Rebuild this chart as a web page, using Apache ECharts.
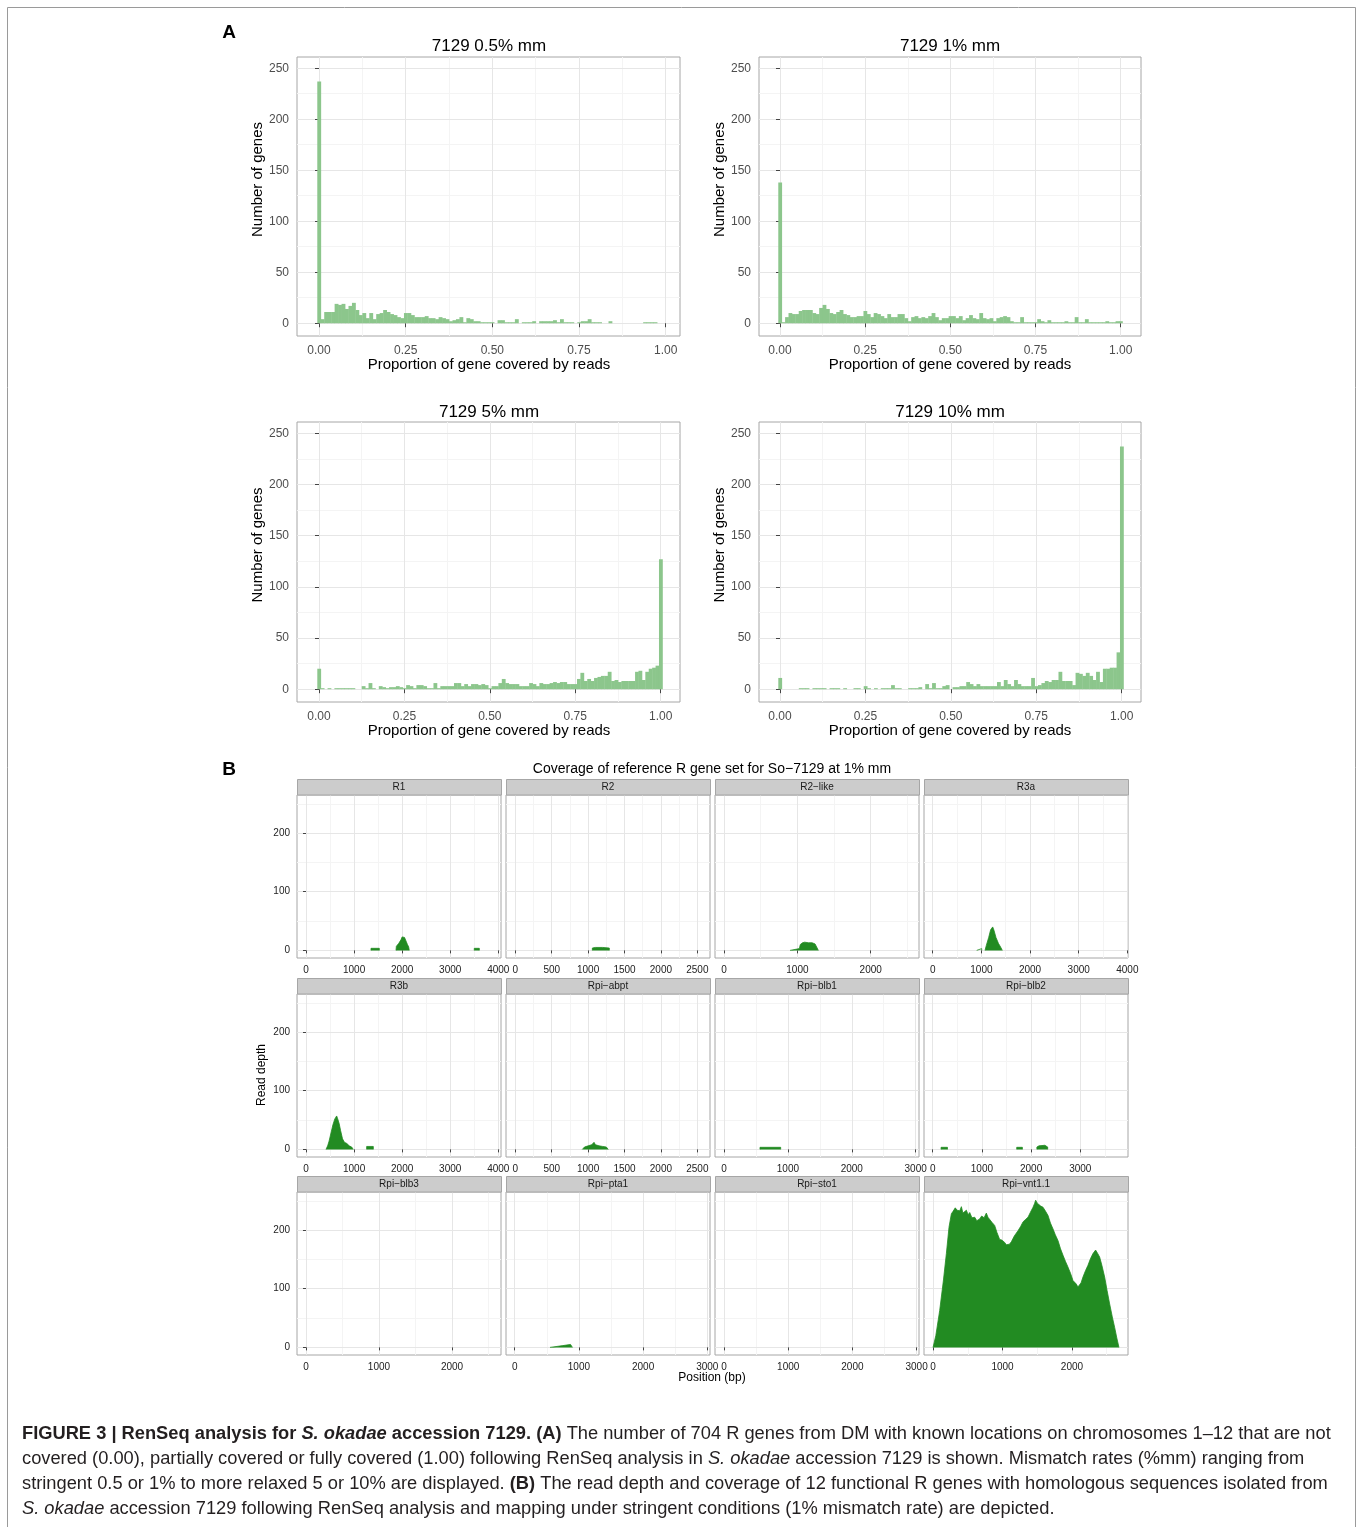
<!DOCTYPE html>
<html><head><meta charset="utf-8">
<script src="https://cdn.jsdelivr.net/npm/echarts@6/dist/echarts.min.js"></script>
<style>html,body{margin:0;padding:0;background:#fff}#c{width:1357px;height:1527px}</style>
</head><body><div id="c"></div>
<script>
// ---------------- DATA ----------------
const BIN = 0.01; // histogram bin width (bins centred on 0.00, 0.01, ... 1.00)
const histTitles = ['7129 0.5% mm', '7129 1% mm', '7129 5% mm', '7129 10% mm'];
const hist05 = [237,4,11,11,11,19,18,19,14,17,20,13,8,10,5,10,4,9,10,13,11,9,8,6,5,10,10,8,6,6,6,7,5,5,4,6,5,4,2,3,4,6,1,5,4,2,2,1,1,1,1,0,3,3,1,1,1,4,0,1,1,1,2,0,2,2,2,2,3,1,4,1,1,1,0,1,2,2,4,1,1,1,0,0,2,0,0,0,0,0,0,0,0,0,1,1,1,1,0,0,0];
const hist1 = [138,1,6,10,9,9,12,13,13,13,10,9,15,18,14,10,9,11,13,9,8,6,6,7,7,12,9,6,10,9,7,5,9,6,6,9,9,5,2,6,7,5,6,5,7,10,6,3,5,5,7,7,5,7,3,5,8,5,4,10,5,4,5,2,5,6,7,6,2,1,1,6,1,1,1,1,4,2,1,3,1,1,1,1,2,1,1,6,1,1,4,1,1,1,1,1,2,1,1,2,2];
const hist5 = [20,1,0,1,0,1,1,1,1,1,1,0,0,3,1,6,1,0,3,2,1,2,2,3,2,1,4,3,1,4,4,3,1,1,6,1,3,3,3,3,6,6,3,5,3,5,5,4,5,4,1,3,3,6,10,6,5,5,5,3,3,3,6,5,3,6,5,5,6,7,6,7,7,5,5,5,10,16,8,10,8,11,12,13,13,17,8,9,7,8,8,8,8,17,18,9,17,20,21,23,127];
const hist10 = [11,0,0,0,0,0,1,1,1,0,1,1,1,1,0,1,1,1,0,1,0,0,1,1,0,3,1,0,1,0,1,1,1,4,1,1,0,0,1,1,1,2,0,5,1,6,1,1,3,4,0,2,2,3,3,7,5,3,5,3,3,3,3,3,7,3,9,5,3,9,5,3,3,3,11,3,4,6,8,7,9,9,17,8,8,8,4,16,15,13,16,13,9,17,7,20,20,21,21,36,237];
const histXTicks = [0, 0.25, 0.5, 0.75, 1];
const histXMinor = [0.125, 0.375, 0.625, 0.875];
const histYTicks = [0, 50, 100, 150, 200, 250];
const histYMinor = [25, 75, 125, 175, 225];

const geneNames = ['R1','R2','R2\u2212like','R3a','R3b','Rpi\u2212abpt','Rpi\u2212blb1','Rpi\u2212blb2','Rpi\u2212blb3','Rpi\u2212pta1','Rpi\u2212sto1','Rpi\u2212vnt1.1'];
// read depth along each gene: segments of [position (bp), depth]
const cov_R1 = [
  [[1352,0],[1352,3.5],[1525,3.5],[1525,0]],
  [[1872,0],[1880,7],[1930,12],[1975,18],[2000,23],[2025,24],[2050,22],[2080,16],[2110,10],[2135,6],[2148,0]],
  [[3500,0],[3500,3.5],[3605,3.5],[3605,0]]
];
const cov_R2 = [[[1058,0],[1058,4],[1100,5],[1200,5],[1291,4],[1291,0]]];
const cov_R2like = [[[900,0],[900,3],[1027,3],[1040,10],[1070,13],[1100,14],[1150,13],[1200,13],[1241,11],[1270,4],[1286,0]]];
const cov_R3a = [
  [[904,0],[904,3],[1007,3],[1007,0]],
  [[1075,0],[1100,8],[1150,22],[1190,35],[1233,40],[1260,34],[1300,22],[1350,12],[1400,5],[1431,0]]
];
const cov_R3b = [
  [[416,0],[450,6],[480,14],[520,28],[560,42],[600,52],[638,57],[660,52],[690,44],[720,32],[760,18],[800,12],[850,10],[900,6],[950,4],[984,0]],
  [[1262,0],[1262,5],[1400,5],[1400,0]]
];
const cov_abpt = [[[920,0],[950,4],[1000,6],[1050,8],[1081,12],[1100,8],[1150,6],[1200,5],[1250,4],[1277,0]]];
const cov_blb1 = [[[563,0],[563,3.5],[887,3.5],[887,0]]];
const cov_blb2 = [
  [[170,0],[170,3.5],[300,3.5],[300,0]],
  [[1708,0],[1708,3.5],[1823,3.5],[1823,0]],
  [[2118,0],[2118,4],[2160,6],[2200,7],[2280,7],[2337,4],[2337,0]]
];
const cov_blb3 = [];
const cov_pta1 = [[[550,0],[550,3],[750,3],[770,5],[870,5],[900,3],[900,0]]];
const cov_sto1 = [];
const cov_vnt11 = [[[0,0],[40,20],[96,63],[150,115],[192,160],[230,205],[264,228],[288,232],[320,238],[345,234],[360,237],[385,233],[408,240],[430,229],[456,228],[480,234],[505,226],[528,230],[560,221],[600,222],[630,216],[671,219],[700,224],[735,221],[767,229],[790,222],[815,219],[850,213],[887,208],[920,196],[959,184],[990,183],[1031,179],[1055,175],[1079,172],[1100,176],[1127,180],[1170,190],[1223,199],[1260,206],[1295,214],[1330,218],[1367,222],[1400,230],[1439,239],[1460,245],[1477,251],[1500,246],[1525,247],[1550,241],[1583,239],[1620,232],[1655,225],[1690,212],[1727,202],[1760,192],[1799,182],[1835,168],[1871,157],[1905,147],[1942,137],[1980,126],[2014,114],[2040,112],[2062,108],[2085,103],[2101,100],[2130,110],[2158,120],[2195,131],[2230,140],[2265,151],[2302,160],[2325,163],[2340,166],[2370,160],[2398,154],[2430,140],[2470,120],[2505,97],[2542,74],[2580,52],[2614,34],[2645,16],[2676,0]]];
const covData = [cov_R1,cov_R2,cov_R2like,cov_R3a,cov_R3b,cov_abpt,cov_blb1,cov_blb2,cov_blb3,cov_pta1,cov_sto1,cov_vnt11];
// x-axis range (bp) shown for each facet and its tick labels
const facetXRange = [[-187,4056],[-128,2674],[-123,2658],[-179,4013],[-187,4056],[-128,2674],[-141,3052],[-177,3970],[-123,2671],[-135,3042],[-140,3037],[-130,2806]];
const ticks4000 = [0,1000,2000,3000,4000], ticks2500 = [0,500,1000,1500,2000,2500], ticks2000 = [0,1000,2000], ticks3000 = [0,1000,2000,3000];
const facetXTicks = [ticks4000,ticks2500,ticks2000,ticks4000,ticks4000,ticks2500,ticks3000,ticks3000,ticks2000,ticks3000,ticks3000,ticks2000];
const covYTicks = [0,100,200];
const covYMinor = [50,150,250];

// ---------------- STYLE / LAYOUT ----------------
const FF = '"Liberation Sans", Arial, Helvetica, sans-serif';
const BAR = '#8cc68c', GREEN = '#228b22', MAJ = '#e6e6e6', MINR = '#f4f4f4', BORDER = '#a6a6a6';
const grids = [], xAxes = [], yAxes = [], series = [], graphics = [];

function minorOf(t) { const m = []; for (let i = 0; i < t.length; i++) { const s = t[1]-t[0]; m.push(t[i] + s/2); } return m; }

function panel(box, xr, yr, xMaj, xMin, yMaj, yMin, o) {
  const g = grids.length;
  grids.push({left: box[0], top: box[1], width: box[2], height: box[3], show: true, backgroundColor: '#fff',
    borderColor: BORDER, borderWidth: 1, outerBoundsMode: 'none', containLabel: false, z: 0});
  const xi = xAxes.length, yi = yAxes.length;
  xAxes.push({gridIndex: g, type: 'value', min: xr[0], max: xr[1], position: 'bottom', axisLine: {show: false},
    axisTick: {show: true, inside: false, length: o.tick, customValues: xMaj, lineStyle: {color: '#444', width: 1}},
    axisLabel: {customValues: xMaj, formatter: o.xFmt, fontSize: o.fs, color: o.lc, margin: o.xm, fontFamily: FF, hideOverlap: false},
    splitLine: {show: true, lineStyle: {color: MAJ, width: 1}}, z: 1});
  xAxes.push({gridIndex: g, type: 'value', min: xr[0], max: xr[1], position: 'bottom', axisLine: {show: false},
    axisTick: {show: false, customValues: xMin}, axisLabel: {show: false, customValues: xMin},
    splitLine: {show: true, lineStyle: {color: MINR, width: 1}}, z: 0});
  yAxes.push({gridIndex: g, type: 'value', min: yr[0], max: yr[1], position: 'left', axisLine: {show: false},
    axisTick: {show: o.showY, inside: false, length: o.tick, customValues: yMaj, lineStyle: {color: '#444', width: 1}},
    axisLabel: {show: o.showY, customValues: yMaj, formatter: (v) => String(Math.round(v)), fontSize: o.fs, color: o.lc, margin: o.ym, fontFamily: FF, hideOverlap: false},
    splitLine: {show: true, lineStyle: {color: MAJ, width: 1}}, z: 1});
  yAxes.push({gridIndex: g, type: 'value', min: yr[0], max: yr[1], position: 'left', axisLine: {show: false},
    axisTick: {show: false, customValues: yMin}, axisLabel: {show: false, customValues: yMin},
    splitLine: {show: true, lineStyle: {color: MINR, width: 1}}, z: 0});
  return {xi, yi};
}

function txt(x, y, text, size, opts) {
  opts = opts || {};
  graphics.push({type: 'text', x: x, y: y, rotation: opts.rot || 0, z: 100, silent: true,
    style: {text: text, fontFamily: FF, fontSize: size, fontWeight: opts.bold ? 'bold' : 'normal', fill: opts.color || '#000',
      align: opts.align || 'center', verticalAlign: 'middle', textAlign: opts.align || 'center', textVerticalAlign: 'middle'}});
}

// ---------------- PANEL A: histograms ----------------
const histData = [hist05, hist1, hist5, hist10];
const histBoxes = [[297,57,383,279],[759,57,382,279],[297,422,383,280],[759,422,382,280]];
const histXR = [[-0.0635,1.0412],[-0.0616,1.0596],[-0.0644,1.0565],[-0.0615,1.0565]];
const histYR = [-12.5, 261];
const histCx = [489, 950, 489, 950];
const histTitleY = [45, 45, 411, 411];
histData.forEach((vals, k) => {
  const b = histBoxes[k];
  const p = panel(b, histXR[k], histYR, histXTicks, histXMinor, histYTicks, histYMinor,
    {tick: 4, fs: 12, lc: '#4d4d4d', xm: 9, ym: 8, showY: true, xFmt: (v) => v.toFixed(2)});
  series.push({type: 'custom', xAxisIndex: p.xi, yAxisIndex: p.yi, z: 3, silent: true,
    data: vals.map((v, i) => [i * BIN, v]).filter(d => d[1] > 0),
    renderItem: function (params, api) {
      const x = api.value(0), y = api.value(1);
      const p0 = api.coord([x - BIN / 2, y]);
      const p1 = api.coord([x + BIN / 2, 0]);
      return {type: 'rect', shape: {x: p0[0], y: p0[1], width: p1[0] - p0[0] + 0.4, height: p1[1] - p0[1]},
        style: {fill: BAR}};
    }});
  txt(histCx[k], histTitleY[k] + 1, histTitles[k], 17);
  txt(histCx[k], b[1] + b[3] + 29, 'Proportion of gene covered by reads', 15);
  txt(b[0] - 39, b[1] + b[3] / 2 - 17, 'Number of genes', 15, {rot: Math.PI / 2});
});
txt(229, 33, 'A', 19, {bold: true});

// ---------------- PANEL B: coverage facets ----------------
const colLeft = [297, 506, 715, 924];
const stripTop = [779, 978, 1176];
const FW = 204, SH = 16, PH = 163;
const covYR = [-13, 265];
covData.forEach((segs, k) => {
  const r = Math.floor(k / 4), c = k % 4;
  const left = colLeft[c], top = stripTop[r] + SH;
  const xt = facetXTicks[k];
  const p = panel([left, top, FW, PH], facetXRange[k], covYR, xt, minorOf(xt), covYTicks, covYMinor,
    {tick: 3, fs: 10, lc: '#222', xm: 7, ym: 7, showY: c === 0, xFmt: (v) => String(Math.round(v))});
  segs.forEach((seg) => {
    series.push({type: 'line', xAxisIndex: p.xi, yAxisIndex: p.yi, data: seg, showSymbol: false, symbol: 'none',
      silent: true, z: 3, lineStyle: {width: 0.8, color: GREEN}, areaStyle: {color: GREEN, opacity: 1}});
  });
  graphics.push({type: 'rect', z: 90, silent: true, shape: {x: left + 0.5, y: stripTop[r] + 0.5, width: FW, height: SH - 0.5},
    style: {fill: '#cccccc', stroke: '#a6a6a6', lineWidth: 1}});
  txt(left + FW / 2, stripTop[r] + SH / 2 + 0.5, geneNames[k], 10, {color: '#1a1a1a'});
});
txt(229, 770, 'B', 19, {bold: true});
txt(712, 769, 'Coverage of reference R gene set for So\u22127129 at 1% mm', 14);
txt(712, 1378, 'Position (bp)', 12);
txt(262, 1075, 'Read depth', 12, {rot: Math.PI / 2});

// ---------------- frame & caption ----------------
graphics.push({type: 'rect', z: 1, silent: true, shape: {x: 7.5, y: 7.5, width: 1348, height: 1530},
  style: {fill: 'none', stroke: '#9a9a9a', lineWidth: 1}});
const capLines = [
  '{b|FIGURE 3 | RenSeq analysis for }{bi|S. okadae}{b| accession 7129. (A)}{n| The number of 704 R genes from DM with known locations on chromosomes 1\u201312 that are not}',
  '{n|covered (0.00), partially covered or fully covered (1.00) following RenSeq analysis in }{i|S. okadae}{n| accession 7129 is shown. Mismatch rates (%mm) ranging from}',
  '{n|stringent 0.5 or 1% to more relaxed 5 or 10% are displayed. }{b|(B)}{n| The read depth and coverage of 12 functional R genes with homologous sequences isolated from}',
  '{i|S. okadae}{n| accession 7129 following RenSeq analysis and mapping under stringent conditions (1% mismatch rate) are depicted.}'
];
const CAPF = 18.3;
const capRich = {
  n: {fontFamily: FF, fontSize: CAPF, fill: '#231f20'},
  b: {fontFamily: FF, fontSize: CAPF, fontWeight: 'bold', fill: '#231f20'},
  bi: {fontFamily: FF, fontSize: CAPF, fontWeight: 'bold', fontStyle: 'italic', fill: '#231f20'},
  i: {fontFamily: FF, fontSize: CAPF, fontStyle: 'italic', fill: '#231f20'}
};
capLines.forEach((t, i) => {
  graphics.push({type: 'text', x: 22, y: 1434 + i * 25, z: 100, silent: true,
    style: {text: t, rich: capRich, fontFamily: FF, fontSize: CAPF, align: 'left', verticalAlign: 'middle', textAlign: 'left', textVerticalAlign: 'middle'}});
});

const chart = echarts.init(document.getElementById('c'), null, {renderer: 'canvas', width: 1357, height: 1527});
chart.setOption({
  animation: false,
  backgroundColor: '#fff',
  textStyle: {fontFamily: FF},
  grid: grids, xAxis: xAxes, yAxis: yAxes, series: series, graphic: graphics
});
</script></body></html>
